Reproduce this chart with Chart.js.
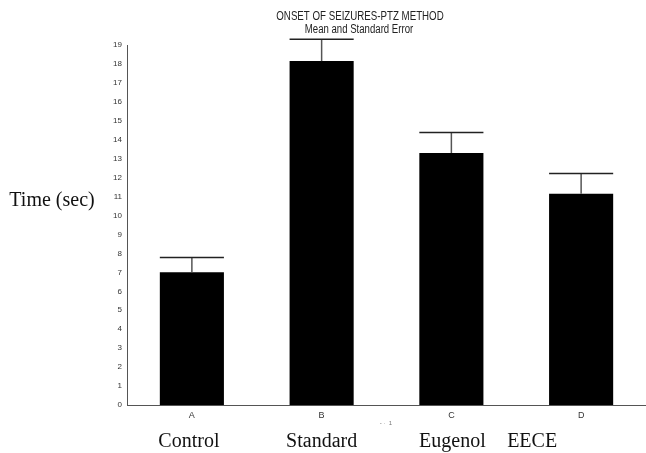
<!DOCTYPE html>
<html>
<head>
<meta charset="utf-8">
<script src="https://cdn.jsdelivr.net/npm/chart.js@4/dist/chart.umd.min.js"></script>
<style>
html,body{margin:0;padding:0;background:#fff;}
#wrap{width:646px;height:453px;position:relative;}
</style>
</head>
<body>
<div id="wrap"><canvas id="c" width="646" height="453"></canvas></div>
<script>
// ---- data ----
const categories = ['A', 'B', 'C', 'D'];
const groupNames = ['Control', 'Standard', 'Eugenol', 'EECE'];
const meanValues = [7.0, 18.15, 13.3, 11.15];
const stdErrors = [0.78, 1.15, 1.08, 1.07];
const titleLines = ['ONSET OF SEIZURES-PTZ METHOD', 'Mean and Standard Error'];
const yAxisLabel = 'Time (sec)';
const xAxisNote = '- \u00b7  1';

// ---- style constants ----
const nameOffsets = [-3, 0, 1, -49];

const extras = {
  id: 'extras',
  afterDatasetsDraw(chart) {
    const ctx = chart.ctx;
    const ys = chart.scales.y;
    const meta = chart.getDatasetMeta(0);
    ctx.save();
    meta.data.forEach((bar, i) => {
      const x = bar.x;
      const half = bar.width / 2;
      const yTop = ys.getPixelForValue(meanValues[i] + stdErrors[i]);
      const yBar = ys.getPixelForValue(meanValues[i]);
      ctx.strokeStyle = '#555';
      ctx.lineWidth = 1.5;
      ctx.beginPath();
      ctx.moveTo(x, yBar);
      ctx.lineTo(x, yTop);
      ctx.stroke();
      ctx.strokeStyle = '#222';
      ctx.lineWidth = 1.5;
      ctx.beginPath();
      ctx.moveTo(x - half, yTop);
      ctx.lineTo(x + half, yTop);
      ctx.stroke();
    });
    ctx.restore();
  },
  afterDraw(chart) {
    const ctx = chart.ctx;
    const xs = chart.scales.x;
    ctx.save();
    // title (condensed)
    ctx.fillStyle = '#222';
    ctx.textAlign = 'center';
    ctx.textBaseline = 'middle';
    ctx.font = '12px "Liberation Sans", Arial, sans-serif';
    ctx.save();
    ctx.translate(360, 17);
    ctx.scale(0.81, 1);
    ctx.fillText(titleLines[0], 0, 0);
    ctx.restore();
    ctx.save();
    ctx.translate(359, 30);
    ctx.scale(0.8, 1);
    ctx.fillText(titleLines[1], 0, 0);
    ctx.restore();
    // y label
    ctx.font = '20px "Liberation Serif", "Times New Roman", serif';
    ctx.fillStyle = '#111';
    ctx.textAlign = 'center';
    ctx.fillText(yAxisLabel, 52, 201);
    // group names
    groupNames.forEach((n, i) => {
      const x = xs.getPixelForValue(i) + nameOffsets[i];
      ctx.fillText(n, x, 442);
    });
    // small axis note
    ctx.font = '6px "Liberation Sans", sans-serif';
    ctx.fillStyle = '#777';
    ctx.fillText(xAxisNote, 386, 423);
    ctx.restore();
  }
};

new Chart(document.getElementById('c'), {
  type: 'bar',
  data: {
    labels: categories,
    datasets: [{
      data: meanValues,
      backgroundColor: '#000',
      borderWidth: 0,
      categoryPercentage: 1,
      barPercentage: 0.494
    }]
  },
  options: {
    responsive: false,
    animation: false,
    devicePixelRatio: 1,
    layout: { padding: { top: 45, right: 0, bottom: 0, left: 0 } },
    plugins: { legend: { display: false }, title: { display: false }, tooltip: { enabled: false } },
    scales: {
      x: {
        grid: { display: false, drawTicks: false },
        border: { display: true, color: '#555', width: 1 },
        ticks: { color: '#333', font: { size: 9, family: '"Liberation Sans", Arial, sans-serif' }, padding: 5 },
        afterFit(s) { s.height = 48; }
      },
      y: {
        min: 0, max: 19,
        grid: { display: false, drawTicks: false },
        border: { display: true, color: '#555', width: 1 },
        ticks: { stepSize: 1, color: '#333', font: { size: 8, family: '"Liberation Sans", Arial, sans-serif' }, padding: 5 },
        afterFit(s) { s.width = 127; }
      }
    }
  },
  plugins: [extras]
});
</script>
</body>
</html>
